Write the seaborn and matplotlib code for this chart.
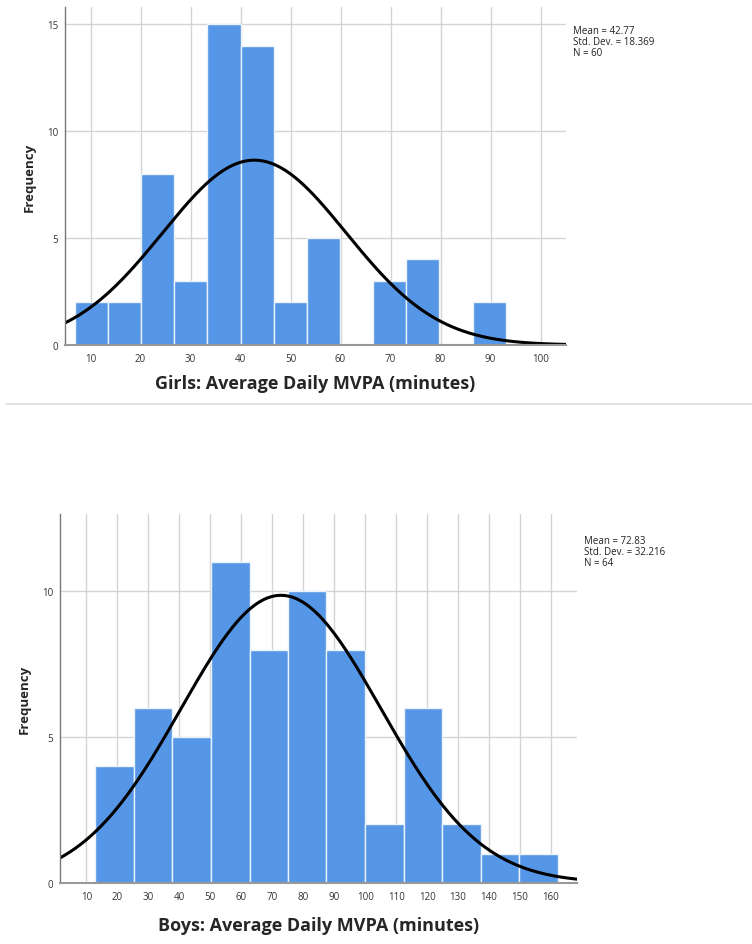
import numpy as np
import pandas as pd
import matplotlib
matplotlib.use('Agg')
import matplotlib.pyplot as plt
from matplotlib.lines import Line2D
import seaborn as sns

sns.set_style('white')
plt.rcParams['font.family'] = ['Open Sans', 'DejaVu Sans']

# Girls histogram
girls_edges = [6.8, 13.4, 20.1, 26.7, 33.3, 40.0, 46.6, 53.2, 59.8, 66.5, 73.1, 79.7, 86.4, 93.0]
girls_counts = [2, 2, 8, 3, 15, 14, 2, 5, 0, 3, 4, 0, 2]
girls_mean, girls_sd, girls_n = 42.77, 18.369, 60
girls_xticks = [10, 20, 30, 40, 50, 60, 70, 80, 90, 100]
girls_yticks = [0, 5, 10, 15]

# Boys histogram
boys_edges = [12.9, 25.3, 37.8, 50.2, 62.7, 75.1, 87.5, 100.0, 112.4, 124.9, 137.3, 149.8, 162.2]
boys_counts = [4, 6, 5, 11, 8, 10, 8, 2, 6, 2, 1, 1]
boys_mean, boys_sd, boys_n = 72.83, 32.216, 64
boys_xticks = [10, 20, 30, 40, 50, 60, 70, 80, 90, 100, 110, 120, 130, 140, 150, 160]
boys_yticks = [0, 5, 10]

bar_color = '#5596e6'
grid_color = '#d4d4d4'


def draw_hist(ax, edges, counts, mean, sd, n, xticks, yticks, xlim, ylim, xlabel, xpad, ypad):
    e = np.array(edges)
    df = pd.DataFrame({'mvpa': (e[:-1] + e[1:]) / 2, 'count': counts})
    ax.set_axisbelow(True)
    ax.grid(True, color=grid_color, linewidth=1.0)
    sns.histplot(data=df, x='mvpa', weights='count', bins=list(edges), ax=ax, color=bar_color,
                 alpha=1, edgecolor='#eaf2fc', linewidth=1.0)
    # normal curve scaled to counts
    w = (e[-1] - e[0]) / len(counts)
    xs = np.linspace(xlim[0], xlim[1], 300)
    ys = n * w * np.exp(-0.5 * ((xs - mean) / sd) ** 2) / (sd * np.sqrt(2 * np.pi))
    sns.lineplot(x=xs, y=ys, ax=ax, color='black', linewidth=2.2)
    ax.set_xlim(xlim)
    ax.set_ylim(ylim)
    ax.set_xticks(xticks)
    ax.set_yticks(yticks)
    ax.tick_params(axis='x', length=0, labelsize=7, colors='#333333', pad=6)
    ax.tick_params(axis='y', length=0, labelsize=7, colors='#333333', pad=5)
    for s in ['top', 'right']:
        ax.spines[s].set_visible(False)
    ax.spines['left'].set_color('#777777')
    ax.spines['left'].set_linewidth(1.0)
    ax.spines['bottom'].set_color('#999999')
    ax.spines['bottom'].set_linewidth(1.5)
    ax.set_xlabel(xlabel, fontsize=13, fontweight='bold', labelpad=xpad)
    ax.set_ylabel('Frequency', fontsize=9.5, fontweight='bold', labelpad=ypad)


fig = plt.figure(figsize=(7.52, 9.45), dpi=100)

ax1 = fig.add_axes([65 / 752, 1 - 346 / 945, 501 / 752, 338 / 945])
draw_hist(ax1, girls_edges, girls_counts, girls_mean, girls_sd, girls_n,
          girls_xticks, girls_yticks, (4.9, 105.1), (0, 15.8),
          'Girls: Average Daily MVPA (minutes)', 7, 8)
fig.text(573 / 752, 1 - 26 / 945,
         f'Mean = {girls_mean}\nStd. Dev. = {girls_sd}\nN = {girls_n}',
         fontsize=7, va='top', ha='left', linespacing=1.0, color='#222222')

ax2 = fig.add_axes([60 / 752, 1 - 883.7 / 945, 516.7 / 752, 368.7 / 945])
draw_hist(ax2, boys_edges, boys_counts, boys_mean, boys_sd, boys_n,
          boys_xticks, boys_yticks, (1.5, 168.3), (0, 12.65),
          'Boys: Average Daily MVPA (minutes)', 10, 8)
fig.text(584 / 752, 1 - 536 / 945,
         f'Mean = {boys_mean}\nStd. Dev. = {boys_sd}\nN = {boys_n}',
         fontsize=7, va='top', ha='left', linespacing=1.0, color='#222222')

# separator between the two panels
fig.add_artist(Line2D([6 / 752, 1], [1 - 405 / 945, 1 - 405 / 945],
                      transform=fig.transFigure, color='#dddddd', linewidth=1.2))

fig.savefig('out.png', dpi=100)
